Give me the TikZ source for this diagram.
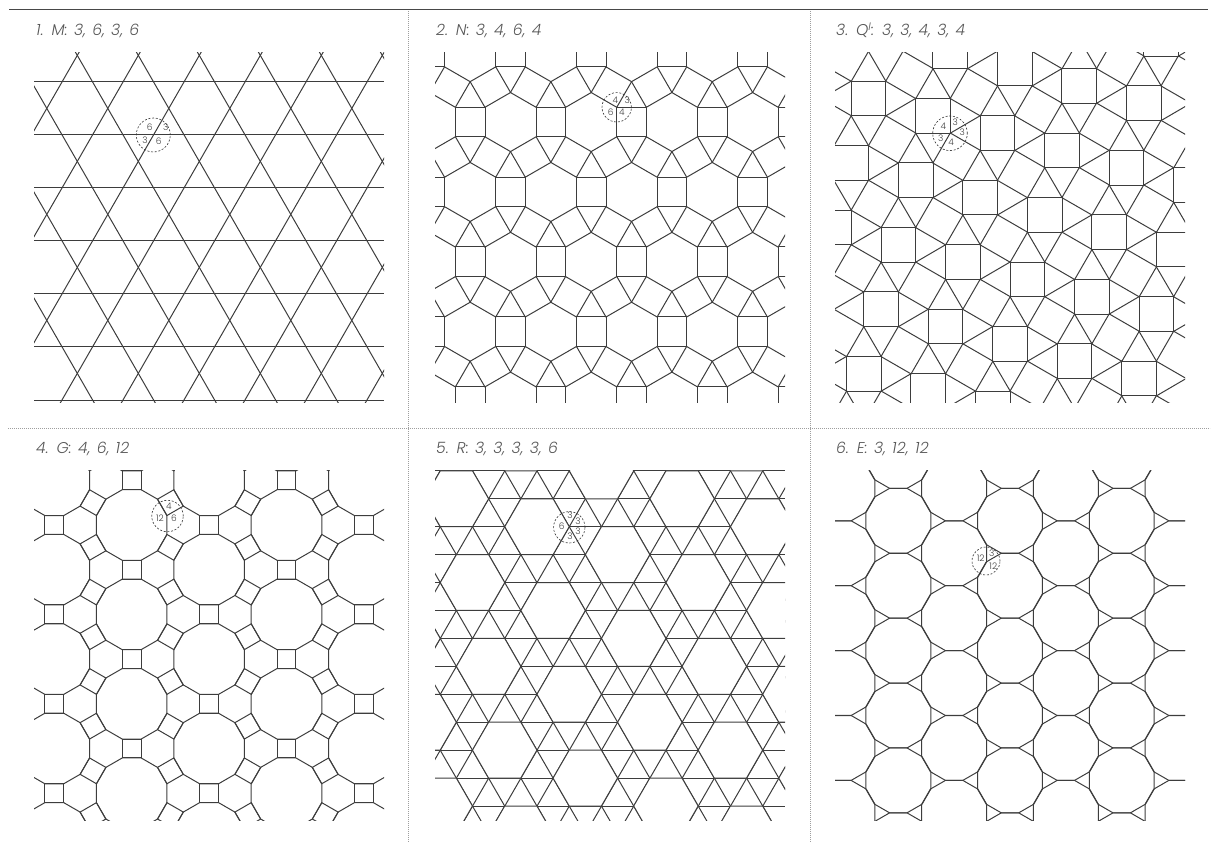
\documentclass[tikz,border=0pt]{standalone}
\usepackage{fontspec}
\newfontfamily\capfont{Poppins Light}[ItalicFont={Poppins Light Italic}, WordSpace=1.3, LetterSpace=1.2]
\newfontfamily\facefont{Poppins Light}
\tikzset{
  tile/.style={black!76, line width=1pt, line join=miter},
  hairdot/.style={black!38, line width=0.8pt, dash pattern=on 0.8pt off 1.2pt},
  caption/.style={font=\capfont\itshape\fontsize{15.6}{17}\selectfont, text=black!66, anchor=base west, inner sep=0pt},
  ring/.style={draw=black!80, line width=0.6pt, dash pattern=on 2pt off 1.7pt, circle, inner sep=0pt},
  faceno/.style={font=\facefont\fontsize{9}{10}\selectfont, text=black!75, inner sep=0pt}
}
\newcommand{\tilepoly}[6][tile]{%
  \draw[#1, shift={(#2,#3)}] (#6:#4) \foreach \k in {1,...,#5} { -- (#6+\k*360/#5:#4) } -- cycle;
}
\begin{document}
\begin{tikzpicture}[x=1pt, y=-1pt]
\useasboundingbox (0,0) rectangle (1216,842);
\draw[black!72, line width=1.3pt] (9,9.5) -- (1208,9.5);
\draw[hairdot] (8,428) -- (1210,428);
\draw[hairdot] (408.5,11) -- (408.5,842);
\draw[hairdot] (810,11) -- (810,842);
\node[caption] (capM) at (36,35.8) {1. M: 3, 6, 3, 6};
\node[caption] (capN) at (436,35.8) {2. N: 3, 4, 6, 4};
\node[caption] (capQ) at (836,35.8) {3. Q\textsuperscript{I}: 3, 3, 4, 3, 4};
\node[caption] (capG) at (36,453.8) {4. G: 4, 6, 12};
\node[caption] (capR) at (436,453.8) {5. R: 3, 3, 3, 3, 6};
\node[caption] (capE) at (836,453.8) {6. E: 3, 12, 12};
\begin{scope}
\clip (34,52.5) rectangle (384,402);
\foreach \k in {0,...,6} {
  \pgfmathsetmacro{\yy}{82+53*\k}
  \draw[tile] (34,\yy) -- (384,\yy);
}
\foreach \j in {-8,...,12} {
  \pgfmathsetmacro{\xa}{77.3+61*\j}
  \draw[tile] (\xa-230.2,-344.6) -- (\xa+230.2,455.4);
  \draw[tile] (\xa+230.2,-344.6) -- (\xa-230.2,455.4);
}
\end{scope}
\begin{scope}
\clip (435,52.5) rectangle (785,402);
\foreach \n in {-2,...,5} {
  \foreach \m in {-6,...,6} {
    \pgfmathsetmacro{\cx}{510.5+80.7*\m+40.35*\n}
    \pgfmathsetmacro{\cy}{122+69.9*\n}
    \foreach \dir in {0,60,120} {
      \pgfmathsetmacro{\sx}{\cx+40.4*cos(\dir)}
      \pgfmathsetmacro{\sy}{\cy+40.4*sin(\dir)}
      \tilepoly{\sx}{\sy}{20.93}{4}{\dir+45}
    }
  }
}
\end{scope}
\begin{scope}
\clip (835,52.5) rectangle (1185,402);
\foreach \m in {-2,...,7} {
  \foreach \n in {-3,...,6} {
    \pgfmathsetmacro{\cx}{868.5+64.5*\m-17.3*\n}
    \pgfmathsetmacro{\cy}{98.5+17.3*\m+64.5*\n}
    \pgfmathsetmacro{\rx}{\cx+23.6}
    \pgfmathsetmacro{\ry}{\cy+40.9}
    \tilepoly{\cx}{\cy}{24.54}{4}{45}
    \tilepoly{\rx}{\ry}{24.54}{4}{75}
    \draw[tile, shift={(\cx,\cy)}] (17.35,17.35) -- (47.15,-0.05);
    \draw[tile, shift={(\cx,\cy)}] (-17.35,17.35) -- (0.05,47.15);
  }
}
\end{scope}
\begin{scope}
\clip (34,470) rectangle (384,820);
\foreach \m in {-2,...,4} {
  \foreach \k in {-5,...,6} {
    \pgfmathsetmacro{\cx}{131.7+77.4*\m}
    \pgfmathsetmacro{\cy}{525+44.7*\m+89.4*\k}
    \tilepoly{\cx}{\cy}{36.51}{12}{15}
    \foreach \dir in {30,90,150} {
      \pgfmathsetmacro{\sx}{\cx+44.72*cos(\dir)}
      \pgfmathsetmacro{\sy}{\cy+44.72*sin(\dir)}
      \tilepoly{\sx}{\sy}{13.36}{4}{\dir+45}
    }
  }
}
\end{scope}
\begin{scope}
\clip (435,470) rectangle (785,820);
\foreach \k in {-2,...,10} {
  \pgfmathsetmacro{\yy}{526.7+27.93*\k}
  \draw[tile] (435,\yy) -- (785,\yy);
}
\foreach \j in {-12,...,24} {
  \pgfmathsetmacro{\xa}{537+32.25*\j}
  \draw[tile] (\xa-96.75,359.1) -- (\xa+193.5,862);
  \draw[tile] (\xa+96.75,359.1) -- (\xa-193.5,862);
}
\foreach \m in {-5,...,8} {
  \foreach \n in {-6,...,8} {
    \pgfmathsetmacro{\cx}{537+80.6*\m+64.5*\n}
    \pgfmathsetmacro{\cy}{526.7+27.93*\m-55.86*\n}
    \tilepoly[tile, fill=white]{\cx}{\cy}{32.25}{6}{0}
  }
}
\end{scope}
\begin{scope}
\clip (835,470) rectangle (1185,820);
\foreach \m in {-1,...,6} {
  \foreach \k in {-5,...,7} {
    \pgfmathsetmacro{\cx}{898.3+55.85*\m}
    \pgfmathsetmacro{\cy}{520.8+32.45*\m+64.9*\k}
    \tilepoly{\cx}{\cy}{33.6}{12}{15}
  }
}
\end{scope}
\node[ring, minimum size=34pt] (ringM) at (153.3,135) {};
\node[faceno] (mA) at (149.7,127.3) {6};
\node[faceno] (mB) at (165.7,127.3) {3};
\node[faceno] (mC) at (145,140) {3};
\node[faceno] (mD) at (158.7,141.7) {6};
\node[ring, minimum size=29.4pt] (ringN) at (616.7,107.3) {};
\node[faceno] (nA) at (615.3,100) {4};
\node[faceno] (nB) at (627.3,100) {3};
\node[faceno] (nC) at (610.7,112) {6};
\node[faceno] (nD) at (622,112) {4};
\node[ring, minimum size=34.6pt] (ringQ) at (950,133.3) {};
\node[faceno] (qA) at (943.3,126) {4};
\node[faceno] (qB) at (955.3,122.3) {3};
\node[faceno] (qC) at (962.3,132.3) {3};
\node[faceno] (qD) at (940.7,138.3) {3};
\node[faceno] (qE) at (951,142.7) {4};
\node[ring, minimum size=31.5pt] (ringG) at (167.5,516) {};
\node[faceno] (gA) at (169,506.7) {4};
\node[faceno] (gB) at (160,518.7) {12};
\node[faceno] (gC) at (174,518.7) {6};
\node[ring, minimum size=31.4pt] (ringR) at (569.3,527.3) {};
\node[faceno] (rA) at (561.7,526.7) {6};
\node[faceno] (rB) at (570,515.7) {3};
\node[faceno] (rC) at (578,521) {3};
\node[faceno] (rD) at (578,531.7) {3};
\node[faceno] (rE) at (570,536) {3};
\node[ring, minimum size=28pt] (ringE) at (986,561) {};
\node[faceno] (eA) at (980.7,558.7) {12};
\node[faceno] (eB) at (991.7,553.3) {3};
\node[faceno] (eC) at (993.3,566.7) {12};
\end{tikzpicture}
\end{document}
